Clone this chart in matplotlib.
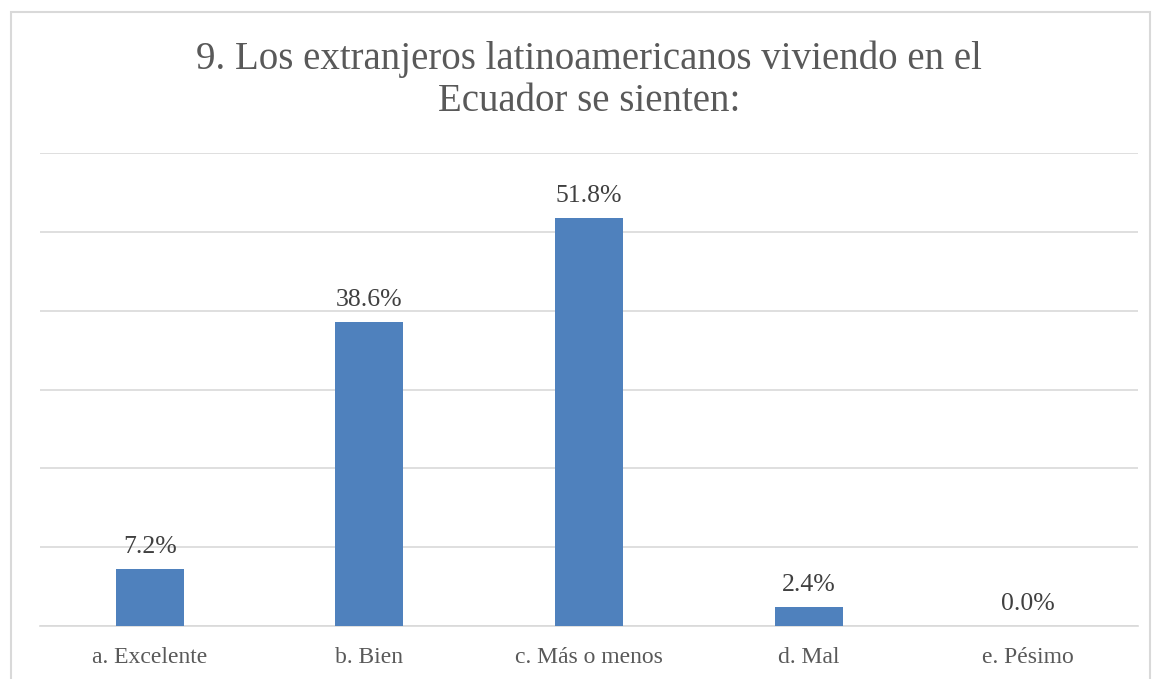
import matplotlib
matplotlib.use("Agg")
import matplotlib.pyplot as plt
from matplotlib.patches import Rectangle

categories = ["a. Excelente", "b. Bien", "c. Más o menos", "d. Mal", "e. Pésimo"]
values = [7.2, 38.6, 51.8, 2.4, 0.0]
labels = ["7.2%", "38.6%", "51.8%", "2.4%", "0.0%"]

plt.rcParams['font.family'] = ['Liberation Serif', 'DejaVu Serif']

fig = plt.figure(figsize=(11.55, 6.79), dpi=100)
ax = fig.add_axes([40 / 1155, 1 - 626 / 679, 1098 / 1155, (626 - 153) / 679])

x = range(len(categories))
bars = ax.bar(x, values, width=0.31, color="#4F81BD", zorder=3)

ax.set_ylim(0, 60)
ax.set_xlim(-0.5, len(categories) - 0.5)
ax.set_yticks(range(0, 61, 10))
ax.yaxis.grid(True, color="#D9D9D9", linewidth=1.2, zorder=0)
ax.tick_params(axis="y", left=False, labelleft=False)
ax.tick_params(axis="x", length=0, pad=15, labelsize=17, labelcolor="#595959")
ax.set_xticks(list(x))
ax.set_xticklabels(categories)
for s in ["top", "right", "left"]:
    ax.spines[s].set_visible(False)
ax.spines["bottom"].set_color("#D9D9D9")
ax.spines["bottom"].set_linewidth(1.2)

for b, lab in zip(bars, labels):
    ax.annotate(lab, (b.get_x() + b.get_width() / 2, b.get_height()),
                xytext=(0, 8), textcoords="offset points",
                ha="center", va="bottom", fontsize=18.5, color="#404040")

fig.text(589 / 1155, 1 - 40 / 679,
         "9. Los extranjeros latinoamericanos viviendo en el\nEcuador se sienten:",
         ha="center", va="top", fontsize=28, color="#595959", linespacing=1.2)

# chart border
fig.patches.append(Rectangle((11 / 1155, -0.01), (1150 - 11) / 1155, 1 - 12 / 679 + 0.01,
                             transform=fig.transFigure, fill=False,
                             edgecolor="#D9D9D9", linewidth=1.5))

fig.savefig("out.png", dpi=100)
